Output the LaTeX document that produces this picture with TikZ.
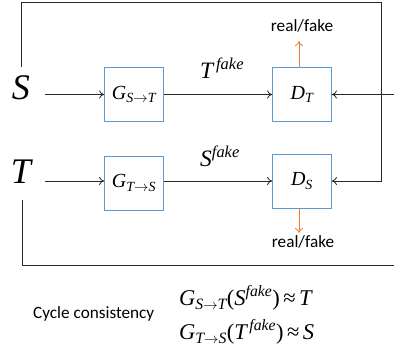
\documentclass[tikz,border=0pt]{standalone}
\usepackage{amsmath}
\usepackage{fontspec}
\newfontfamily\carl{Carlito}
\newfontfamily\tms{Liberation Serif}
\newcommand\vi[1]{\text{\tms\itshape #1}}
\newcommand\vr[1]{\text{\tms #1}}
\newcommand\apx{\mskip3mu\vr{≈}\mskip3mu}
\usetikzlibrary{arrows.meta}
\definecolor{boxblue}{RGB}{91,155,213}
\definecolor{orng}{RGB}{237,125,49}
\definecolor{linegray}{RGB}{40,40,40}
\begin{document}
\begin{tikzpicture}[x=1pt,y=-1pt,
  box/.style={draw=boxblue, line width=0.8pt, minimum width=59pt, minimum height=54pt, inner sep=0pt, font=\fontsize{20}{20}\selectfont},
  big/.style={inner sep=0pt, font=\fontsize{36}{36}\selectfont},
  lbl/.style={inner sep=0pt, font=\fontsize{23.5}{23.5}\selectfont},
  eqn/.style={inner sep=0pt, font=\fontsize{22.5}{22.5}\selectfont},
  sans/.style={inner sep=0pt, font=\carl\fontsize{17.2}{17.2}\selectfont},
  line/.style={line width=0.8pt, draw=linegray},
  conn/.style={line, -{To[length=5pt,width=8pt]}},
  oconn/.style={line width=0.8pt, draw=orng, -{To[length=5pt,width=8pt]}}]
\useasboundingbox (0,0) rectangle (394,358);
% inputs
\node[big] (S) at (21,87.5) {$\vi{S}$};
\node[big] (T) at (21,171.5) {$\vi{T}$};
% boxes
\node[box] (GST) at (134,94.5) {$\vi{G}_{\vi{S}\to\vi{T}}$};
\node[box] (DT) at (302,94.5) {$\vi{D}_{\vi{T}}$};
\node[box] (GTS) at (134,183) {$\vi{G}_{\vi{T}\to\vi{S}}$};
\node[box] (DS) at (302,181) {$\vi{D}_{\vi{S}}$};
% coordinates
\coordinate (Sout) at (45,94.5);
\coordinate (Tout) at (45,181);
\coordinate (Stop) at (21,67);
\coordinate (tr) at (381,2);
\coordinate (rin) at (394,94.5);
\coordinate (Tbot) at (22,200);
\coordinate (br) at (394,265);
\coordinate (rfup) at (299,41);
\coordinate (rfdn) at (299,233);
% connectors
\draw[conn] (Sout) -- (GST.west);
\draw[conn] (GST.east) -- (DT.west);
\draw[conn] (Tout) -- (GTS.west |- Tout);
\draw[conn] (GTS.east |- Tout) -- (DS.west);
\draw[conn] (rin) -- (DT.east);
\draw[conn] (Stop) |- (tr) |- (DS.east);
\draw[line] (Tbot) |- (br);
\draw[oconn] (DT.north -| rfup) -- (rfup);
\draw[oconn] (DS.south -| rfdn) -- (rfdn);
% labels
\node[lbl, anchor=base west] (Tf) at (200,79) {$\vi{T}^{\,\vi{fake}}$};
\node[lbl, anchor=base west] (Sf) at (200,167) {$\vi{S}^{\vi{fake}}$};
\node[sans, anchor=base] (rf1) at (302,31.5) {real/fake};
\node[sans, anchor=base] (rf2) at (303,248) {real/fake};
\node[sans, anchor=base west] (cyc) at (33,319) {Cycle consistency};
\node[eqn, anchor=base west] (eq1) at (179,306) {$\vi{G}_{\vi{S}\to\vi{T}}\vr{(}\vi{S}^{\vi{fake}}\vr{)}\apx\vi{T}$};
\node[eqn, anchor=base west] (eq2) at (179,340) {$\vi{G}_{\vi{T}\to\vi{S}}\vr{(}\vi{T}^{\,\vi{fake}}\vr{)}\apx\vi{S}$};
\end{tikzpicture}
\end{document}
